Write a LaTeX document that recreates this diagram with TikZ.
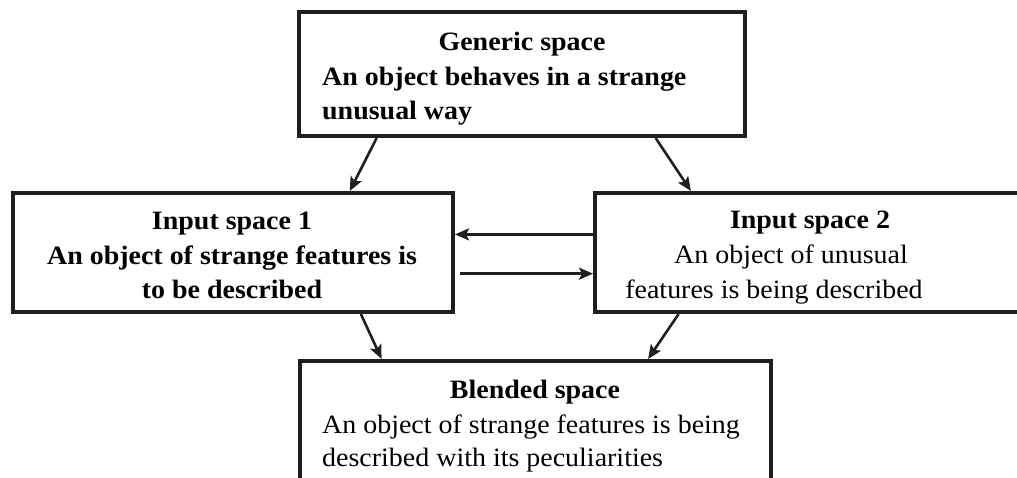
\documentclass[tikz,border=0pt]{standalone}
\usepackage{fontspec}
\setmainfont{Liberation Serif}[FakeStretch=1.055]
\usetikzlibrary{arrows.meta,calc}
\begin{document}
\begin{tikzpicture}[x=1pt,y=-1pt,
  spacebox/.style={draw=black!88,line width=4pt,inner sep=0pt,rectangle},
  txt/.style={anchor=base,inner sep=0pt,font=\fontsize{26.5}{32}\selectfont},
  txtl/.style={anchor=base west,inner sep=0pt,font=\fontsize{26.5}{32}\selectfont},
  bold/.style={font=\fontsize{26.5}{32}\selectfont\bfseries},
  link/.style={draw=black!88,line width=2.6pt,-{Stealth[length=14pt,width=12pt,inset=3pt]}}]
  \useasboundingbox (0,0) rectangle (1017,477);
  \clip (0,0) rectangle (1017,477);

  % boxes (the right and bottom ones run past the page edge)
  \node[spacebox,minimum width=446pt,minimum height=124pt] (gen) at (522,74) {};
  \node[spacebox,minimum width=440pt,minimum height=119pt] (in1) at (233,252.5) {};
  \node[spacebox,minimum width=435pt,minimum height=119pt] (in2) at (812.5,252.5) {};
  \node[spacebox,minimum width=471pt,minimum height=139pt] (bl) at (535.5,430.5) {};

  % generic space
  \node[txt,bold] (gt) at (522,50) {Generic space};
  \node[txtl,bold] (gl1) at (322,85) {An object behaves in a strange};
  \node[txtl,bold] (gl2) at (322,119) {unusual way};

  % input space 1
  \node[txt,bold] (at) at (232,229) {Input space 1};
  \node[txt,bold] (al1) at (232,264) {An object of strange features is};
  \node[txt,bold] (al2) at (232,298) {to be described};

  % input space 2
  \node[txt,bold] (bt) at (810,228) {Input space 2};
  \node[txt] (bl1) at (791,263) {An object of unusual};
  \node[txt] (bl2) at (774,298) {features is being described};

  % blended space
  \node[txt,bold] (ct) at (535,398) {Blended space};
  \node[txtl] (cl1) at (322,433) {An object of strange features is being};
  \node[txtl] (cl2) at (322,466) {described with its peculiarities};

  % projections between the spaces
  \draw[link] ($(gen.south west)!0.177!(gen.south east)$) -- ($(in1.north west)!0.763!(in1.north east)$);
  \draw[link] ($(gen.south west)!0.797!(gen.south east)$) -- ($(in2.north west)!0.223!(in2.north east)$);
  \draw[link] ($(in2.north west)!0.353!(in2.south west)$) -- ($(in1.north east)!0.353!(in1.south east)$);
  \draw[link] ($(in1.north east)!0.672!(in1.south east)+(5,0)$) -- ($(in2.north west)!0.672!(in2.south west)$);
  \draw[link] ($(in1.south west)!0.788!(in1.south east)$) -- ($(bl.north west)!0.176!(bl.north east)$);
  \draw[link] ($(in2.south west)!0.195!(in2.south east)$) -- ($(bl.north west)!0.737!(bl.north east)$);
\end{tikzpicture}
\end{document}
